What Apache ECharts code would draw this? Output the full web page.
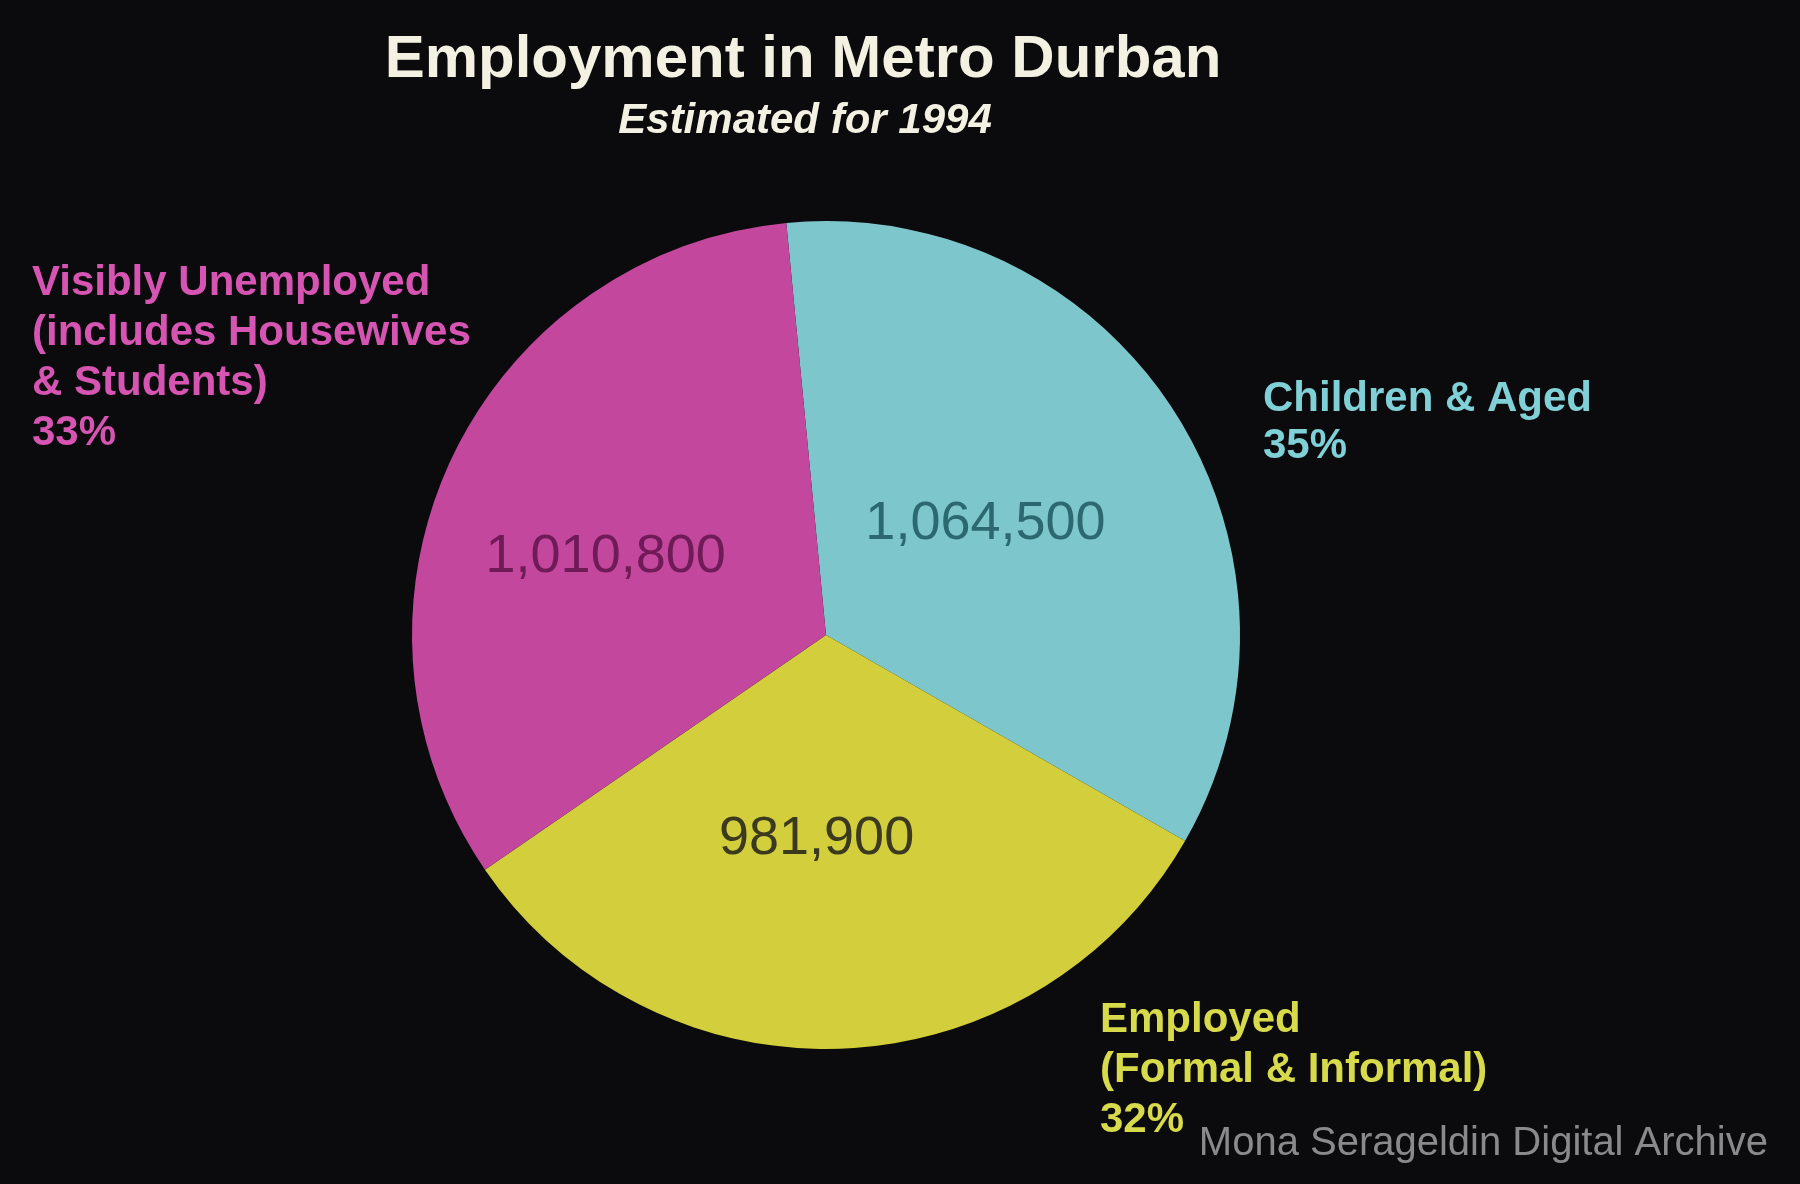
<!DOCTYPE html>
<html>
<head>
<meta charset="utf-8">
<script src="https://cdn.jsdelivr.net/npm/echarts@6/dist/echarts.min.js"></script>
<style>
html,body{margin:0;padding:0;background:#0b0a0c;}
#chart{width:1800px;height:1184px;}
</style>
</head>
<body>
<div id="chart"></div>
<script>
// ---- data ----
const categories = ['Children & Aged', 'Employed\n(Formal & Informal)', 'Visibly Unemployed\n(includes Housewives\n& Students)'];
const values = [1064500, 981900, 1010800];
const percentLabels = ['35%', '32%', '33%'];
const titleText = 'Employment in Metro Durban';
const subtitleText = 'Estimated for 1994';
const creditText = 'Mona Serageldin Digital Archive';

// ---- styling ----
const sliceColors = ['#7dc7cc', '#d3ce3b', '#c4479e'];
const valueTextColors = ['#2c6870', '#3b3a1e', '#6f1b57'];
const nameTextColors = ['#80d0d7', '#d7da4b', '#d655b3'];
const namePos = [[1263, 376], [1100, 995], [32, 258]];
const nameLineHeight = [47, 50, 50];
const valueShift = [[-17, 3], [-18, -6], [-30, 11]];

const chart = echarts.init(document.getElementById('chart'));
const center = [826, 635];
const radius = 414;
const startAngle = 95.5;

chart.setOption({
  backgroundColor: '#0b0a0c',
  animation: false,
  graphic: [
    { type: 'text', x: 803, y: 60,
      style: { text: titleText, fill: '#f3f1e2', font: 'bold 60px "Liberation Sans", Arial, sans-serif', textAlign: 'center', textVerticalAlign: 'middle' } },
    { type: 'text', x: 805, y: 121,
      style: { text: subtitleText, fill: '#f3f1e2', font: 'italic bold 42px "Liberation Sans", Arial, sans-serif', textAlign: 'center', textVerticalAlign: 'middle' } },
    { type: 'text', x: 1768, y: 1144,
      style: { text: creditText, fill: '#8a8a8a', font: '40px "Liberation Sans", Arial, sans-serif', textAlign: 'right', textVerticalAlign: 'middle' } }
  ],
  series: [
    {
      type: 'pie',
      center: center,
      radius: radius,
      startAngle: startAngle,
      clockwise: true,
      avoidLabelOverlap: false,
      silent: true,
      itemStyle: { borderWidth: 0 },
      label: {
        show: true,
        position: 'inside',
        fontFamily: '"Liberation Sans", Arial, sans-serif',
        fontSize: 54,
        fontWeight: 'normal',
        formatter: p => p.value.toLocaleString('en-US')
      },
      labelLayout: p => ({ dx: valueShift[p.dataIndex][0], dy: valueShift[p.dataIndex][1] }),
      labelLine: { show: false },
      data: values.map((v, i) => ({
        value: v,
        name: categories[i],
        itemStyle: { color: sliceColors[i] },
        label: { color: valueTextColors[i] }
      }))
    },
    {
      type: 'pie',
      center: center,
      radius: radius,
      startAngle: startAngle,
      clockwise: true,
      silent: true,
      avoidLabelOverlap: false,
      itemStyle: { color: 'transparent', borderWidth: 0 },
      label: {
        show: true,
        position: 'outside',
        fontFamily: '"Liberation Sans", Arial, sans-serif',
        fontSize: 42,
        fontWeight: 'bold',
        lineHeight: 50,
        align: 'left',
        formatter: p => categories[p.dataIndex] + '\n' + percentLabels[p.dataIndex]
      },
      labelLine: { show: false },
      labelLayout: p => ({
        x: namePos[p.dataIndex][0],
        y: namePos[p.dataIndex][1],
        align: 'left',
        verticalAlign: 'top'
      }),
      data: values.map((v, i) => ({
        value: v,
        name: categories[i],
        label: { color: nameTextColors[i], lineHeight: nameLineHeight[i] }
      }))
    }
  ]
});
</script>
</body>
</html>
